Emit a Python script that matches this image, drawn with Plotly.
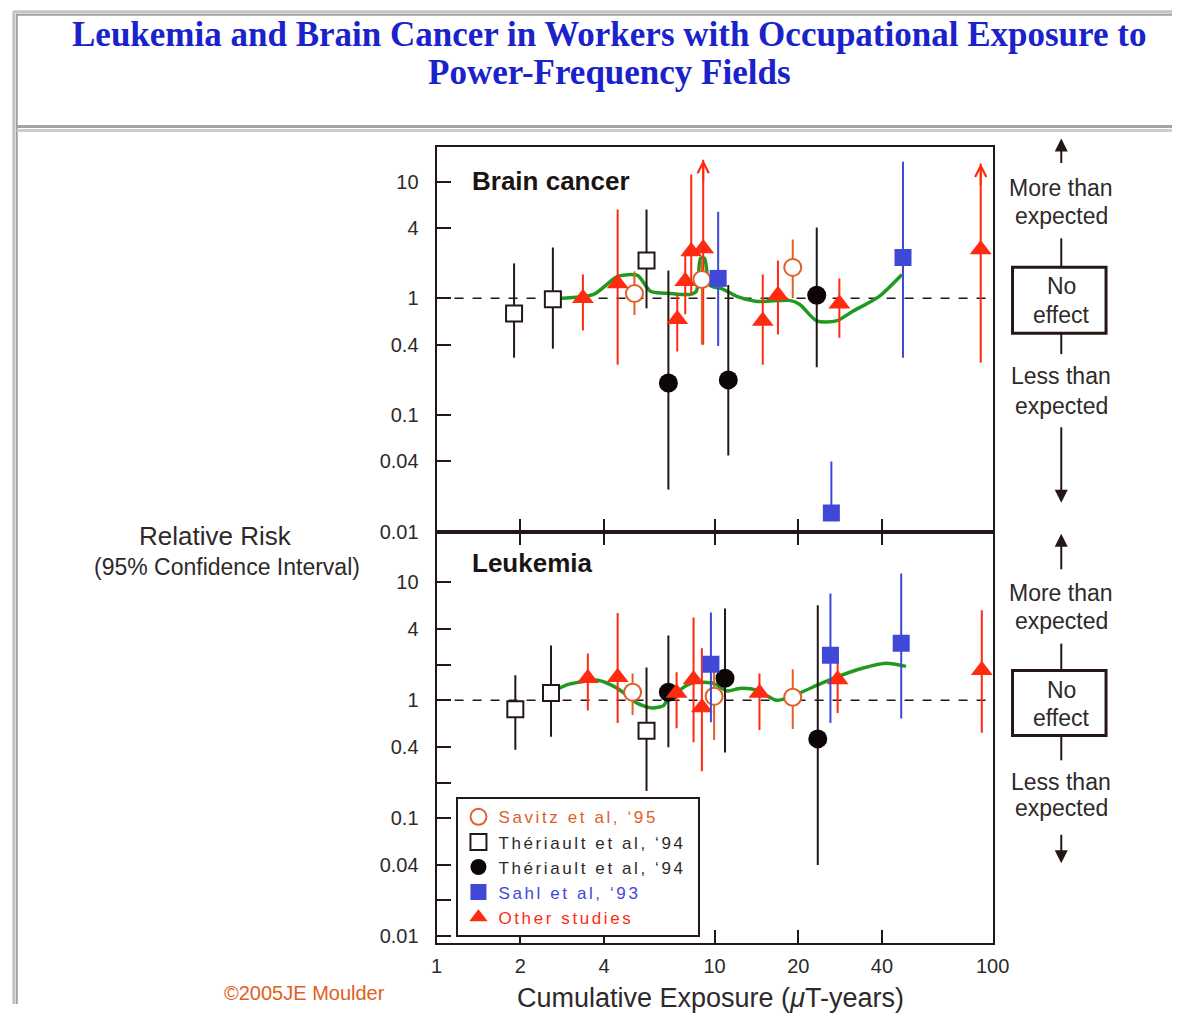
import numpy as np
import plotly.graph_objects as go
from plotly.subplots import make_subplots

W, H = 1181, 1007
# measured: the figure lands on the page at  page = S * fig_px + C
SX, CX = 0.9857, 10.2
SY, CY = 0.991, 6.2

# x ticks (cumulative exposure, uT-years)
x_ticks = [1, 2, 4, 10, 20, 40, 100]
y_ticks = [0.01, 0.04, 0.1, 0.4, 1, 4, 10]
y_ticks_minor = [0.02, 0.2, 2]

# ---- Brain cancer ----
brain_savitz_x = [5.15, 9.0, 19.1]
brain_savitz_y = [1.1, 1.45, 1.84]
brain_savitz_hi = [1.7, 2.1, 3.19]
brain_savitz_lo = [0.72, 0.4, 1.0]

brain_ther_open_x = [1.9, 2.62, 5.69]
brain_ther_open_y = [0.74, 0.98, 2.11]
brain_ther_open_hi = [1.99, 2.73, 5.76]
brain_ther_open_lo = [0.31, 0.37, 0.82]

brain_ther_fill_x = [6.82, 11.2, 23.3]
brain_ther_fill_y = [0.188, 0.2, 1.06]
brain_ther_fill_hi = [1.73, 1.3, 4.05]
brain_ther_fill_lo = [0.023, 0.045, 0.257]

brain_sahl_x = [10.3, 26.3, 47.6]
brain_sahl_y = [1.48, 0.0145, 2.24]
brain_sahl_hi = [5.5, 0.04, 14.8]
brain_sahl_lo = [0.39, 0.0145, 0.31]

brain_other_x = [3.36, 4.48, 7.34, 7.84, 8.24, 9.1, 14.9, 16.9, 28.1, 90.6]
brain_other_y = [1.0, 1.34, 0.66, 1.4, 2.52, 2.67, 0.64, 1.06, 0.9, 2.62]
brain_other_hi = [1.6, 5.76, 1.08, 2.52, 11.5, 15.4, 1.6, 2.11, 1.48, 14.3]
brain_other_lo = [0.53, 0.27, 0.35, 0.73, 1.08, 0.4, 0.27, 0.49, 0.46, 0.28]
brain_open_ended = [9.1, 90.6]  # upper limits off the chart

brain_trend_x = [2.8, 3.67, 4.48, 5.28, 5.88, 6.93, 8.17, 8.6, 8.9, 9.2, 9.6, 10.7,
                 12.0, 14.2, 18.6, 20.2, 23.3, 27.4, 31.3, 39.1, 47.2]
brain_trend_y = [1.0, 1.08, 1.54, 1.57, 1.15, 1.1, 1.08, 1.15, 2.2, 2.2, 1.3, 1.2,
                 1.04, 0.94, 0.96, 0.89, 0.64, 0.64, 0.77, 1.04, 1.6]

# ---- Leukemia ----
leuk_savitz_x = [5.07, 9.96, 19.1]
leuk_savitz_y = [1.17, 1.08, 1.06]
leuk_savitz_hi = [1.69, 1.73, 1.83]
leuk_savitz_lo = [0.75, 0.46, 0.57]

leuk_ther_open_x = [1.92, 2.58, 5.69]
leuk_ther_open_y = [0.84, 1.15, 0.55]
leuk_ther_open_hi = [1.63, 2.92, 1.9]
leuk_ther_open_lo = [0.38, 0.49, 0.17]

leuk_ther_fill_x = [6.82, 10.9, 23.5]
leuk_ther_fill_y = [1.17, 1.54, 0.47]
leuk_ther_fill_hi = [3.55, 6.0, 6.4]
leuk_ther_fill_lo = [0.4, 0.36, 0.04]

leuk_sahl_x = [9.7, 26.1, 46.9]
leuk_sahl_y = [2.02, 2.41, 3.04]
leuk_sahl_hi = [5.57, 8.07, 11.9]
leuk_sahl_lo = [0.65, 0.64, 0.7]

leuk_other_x = [3.5, 4.48, 7.3, 8.4, 9.0, 14.5, 27.7, 91.4]
leuk_other_y = [1.54, 1.57, 1.15, 1.5, 0.87, 1.15, 1.5, 1.8]
leuk_other_hi = [2.5, 5.5, 1.73, 5.05, 2.76, 1.69, 2.4, 5.8]
leuk_other_lo = [0.82, 0.64, 0.58, 0.44, 0.25, 0.56, 0.78, 0.53]

leuk_trend_x = [2.75, 3.0, 3.8, 4.48, 5.28, 5.97, 6.55, 6.75, 7.95, 8.5, 9.9, 11.1,
                12.3, 14.2, 16.7, 18.6, 22.5, 27.4, 34, 41.4, 48.8]
leuk_trend_y = [1.26, 1.37, 1.48, 1.26, 0.94, 0.86, 0.9, 1.0, 1.34, 1.42, 1.39, 1.2,
                1.26, 1.22, 1.0, 1.06, 1.29, 1.57, 1.87, 2.06, 1.94]

INK = '#231815'
TXT = '#2e2a2a'
ORANGE = '#e0602a'
RED = '#ff2a10'
BLUE = '#4048d8'
GREEN = '#1e9b1e'
SANS = 'Liberation Sans, Arial, sans-serif'

# page pixel -> paper fraction
def px(x):
    return ((x - CX) / SX) / W

def py(y):
    return 1 - ((y - CY) / SY) / H

def spaced(text, color=None):
    style = 'letter-spacing:2.6px'
    if color:
        style += f';color:{color}'
    return f'<span style="{style}">{text}</span>'

studies = {
    'savitz': dict(name=spaced('Savitz et al, ‘95', ORANGE), rank=1,
                   marker=dict(symbol='circle', size=17, color='white', line=dict(color=ORANGE, width=2)),
                   err=ORANGE),
    'ther_open': dict(name=spaced('Thériault et al, ‘94'), rank=2,
                      marker=dict(symbol='square', size=16, color='white', line=dict(color=INK, width=2)),
                      err=INK),
    'ther_fill': dict(name=spaced('Thériault et al, ‘94 '), rank=3,
                      marker=dict(symbol='circle', size=19, color='#0d0606', line=dict(width=0)),
                      err=INK),
    'sahl': dict(name=spaced('Sahl et al, ‘93', BLUE), rank=4,
                 marker=dict(symbol='square', size=17, color=BLUE, line=dict(width=0)),
                 err=BLUE),
    'other': dict(name=spaced('Other studies', RED), rank=5,
                  marker=dict(symbol='triangle-up', size=19, color=RED, line=dict(width=0)),
                  err=RED),
}

fig = make_subplots(rows=2, cols=1)


def add_study(key, row, x, y, lo, hi):
    s = studies[key]
    fig.add_trace(go.Scatter(
        x=x, y=y, mode='markers', name=s['name'], legendgroup=key, legendrank=s['rank'],
        showlegend=(row == 1), marker=s['marker'],
        error_y=dict(type='data', symmetric=False,
                     array=[h - v for h, v in zip(hi, y)],
                     arrayminus=[v - l for v, l in zip(y, lo)],
                     color=s['err'], thickness=2, width=0),
    ), row=row, col=1)


for row, tx, ty in [(1, brain_trend_x, brain_trend_y), (2, leuk_trend_x, leuk_trend_y)]:
    fig.add_trace(go.Scatter(x=[x_ticks[0], x_ticks[-1]], y=[1, 1], mode='lines',
                             line=dict(color=INK, width=1.6, dash='dash'),
                             showlegend=False, hoverinfo='skip'), row=row, col=1)
    fig.add_trace(go.Scatter(x=tx, y=ty, mode='lines',
                             line=dict(color=GREEN, width=3.5, shape='spline', smoothing=0.7),
                             showlegend=False, hoverinfo='skip'), row=row, col=1)

add_study('ther_fill', 1, brain_ther_fill_x, brain_ther_fill_y, brain_ther_fill_lo, brain_ther_fill_hi)
add_study('ther_open', 1, brain_ther_open_x, brain_ther_open_y, brain_ther_open_lo, brain_ther_open_hi)
add_study('other', 1, brain_other_x, brain_other_y, brain_other_lo, brain_other_hi)
add_study('savitz', 1, brain_savitz_x, brain_savitz_y, brain_savitz_lo, brain_savitz_hi)
add_study('sahl', 1, brain_sahl_x, brain_sahl_y, brain_sahl_lo, brain_sahl_hi)

add_study('ther_fill', 2, leuk_ther_fill_x, leuk_ther_fill_y, leuk_ther_fill_lo, leuk_ther_fill_hi)
add_study('ther_open', 2, leuk_ther_open_x, leuk_ther_open_y, leuk_ther_open_lo, leuk_ther_open_hi)
add_study('other', 2, leuk_other_x, leuk_other_y, leuk_other_lo, leuk_other_hi)
add_study('savitz', 2, leuk_savitz_x, leuk_savitz_y, leuk_savitz_lo, leuk_savitz_hi)
add_study('sahl', 2, leuk_sahl_x, leuk_sahl_y, leuk_sahl_lo, leuk_sahl_hi)

# open-ended upper limits (arrowheads)
annotations = []
for xv in brain_open_ended:
    top = brain_other_hi[brain_other_x.index(xv)]
    annotations.append(dict(x=np.log10(xv), y=np.log10(top), xref='x', yref='y',
                            ax=np.log10(xv), ay=np.log10(top) - 0.2, axref='x', ayref='y',
                            text='', showarrow=True, arrowhead=5, arrowsize=1.1,
                            arrowwidth=2, arrowcolor=RED, standoff=0))

axis_common = dict(type='log', showgrid=False, zeroline=False, showline=True, linewidth=2,
                   linecolor=INK, ticks='inside', tickwidth=1.5, tickcolor=INK,
                   tickfont=dict(family=SANS, size=20, color=TXT))
xdom = [px(435), px(994)]
fig.update_layout(
    xaxis=dict(axis_common, domain=xdom, range=[0, 2], tickvals=x_ticks[1:-1],
               showticklabels=False, ticklen=13, mirror=True),
    xaxis2=dict(axis_common, domain=xdom, range=[0, 2], tickvals=x_ticks,
                ticktext=[str(v) for v in x_ticks], ticklen=13, mirror='ticks',
                ticklabelstandoff=4),
    yaxis=dict(axis_common, domain=[py(531), py(145)], range=[-2, 1.3], tickvals=y_ticks,
               ticktext=[f'{v:g}' for v in y_ticks], ticklen=14, mirror=True,
               ticklabelstandoff=12),
    yaxis2=dict(axis_common, domain=[py(943), py(531)], range=[-2.06, 1.43],
                tickvals=y_ticks + y_ticks_minor,
                ticktext=[f'{v:g}' for v in y_ticks] + [''] * len(y_ticks_minor),
                ticklen=14, mirror=True, ticklabelstandoff=12),
)

# text labels
def label(text, x, y, size=21, color=TXT, anchor='center', bold=False, family=SANS):
    annotations.append(dict(text=f'<b>{text}</b>' if bold else text, x=px(x), y=py(y),
                            xref='paper', yref='paper', xanchor=anchor, yanchor='middle',
                            showarrow=False, font=dict(family=family, size=size, color=color)))

TITLE_FONT = 'Liberation Serif, Times New Roman, serif'
label('Leukemia and Brain Cancer in Workers with Occupational Exposure to', 608, 33,
      size=35, color='#1a22cc', bold=True, family=TITLE_FONT)
label('Power-Frequency Fields', 609, 71, size=35, color='#1a22cc', bold=True, family=TITLE_FONT)

label('Brain cancer', 469, 180, size=26, color='#1a1414', anchor='left', bold=True)
label('Leukemia', 469, 562, size=26, color='#1a1414', anchor='left', bold=True)
label('Relative Risk', 213, 535, size=26)
label('(95% Confidence Interval)', 224, 566, size=23)
label('Cumulative Exposure (<i>μ</i>T-years)', 710, 998, size=27)
label('©2005JE Moulder', 219, 993, size=20, color='#e0601e', anchor='left')

side_texts = [('More than', 187), ('expected', 215), ('No', 285), ('effect', 314),
              ('Less than', 375), ('expected', 405),
              ('More than', 592), ('expected', 620), ('No', 690), ('effect', 718),
              ('Less than', 782), ('expected', 808)]
for t, y in side_texts:
    label(t, 1063, y, size=23)

# side arrows: (tip y, tail y)
for tip, tail in [(137, 163), (502, 425), (533, 570), (863, 833)]:
    annotations.append(dict(x=px(1063), y=py(tip), xref='paper', yref='paper', ax=0, ay=tail - tip,
                            text='', showarrow=True, arrowhead=2, arrowsize=1.3, arrowwidth=2,
                            arrowcolor=INK, standoff=0))

shapes = []
for y0, y1 in [(237, 266), (332, 353), (643, 670), (735, 760)]:
    shapes.append(dict(type='line', xref='paper', yref='paper', x0=px(1063), x1=px(1063),
                       y0=py(y0), y1=py(y1), line=dict(color=INK, width=2)))
for y0, y1 in [(266, 332), (670, 735)]:
    shapes.append(dict(type='rect', xref='paper', yref='paper', x0=px(1014), x1=px(1108),
                       y0=py(y0), y1=py(y1), line=dict(color=INK, width=3)))

# page frame (the gray table border of the original page)
shapes += [
    dict(type='line', xref='paper', yref='paper', x0=px(10), x1=1, y0=py(10), y1=py(10),
         line=dict(color='#c4c4c4', width=3)),
    dict(type='line', xref='paper', yref='paper', x0=px(13), x1=1, y0=py(13), y1=py(13),
         line=dict(color='#a0a0a0', width=2)),
    dict(type='line', xref='paper', yref='paper', x0=px(10), x1=px(10), y0=py(9), y1=0,
         line=dict(color='#c4c4c4', width=3)),
    dict(type='line', xref='paper', yref='paper', x0=px(13), x1=px(13), y0=py(12), y1=0,
         line=dict(color='#a0a0a0', width=2)),
    dict(type='line', xref='paper', yref='paper', x0=px(13), x1=1, y0=py(125), y1=py(125),
         line=dict(color='#a4a4a4', width=3)),
    dict(type='line', xref='paper', yref='paper', x0=px(13), x1=1, y0=py(129), y1=py(129),
         line=dict(color='#cccccc', width=3)),
]

fig.update_layout(
    width=W, height=H, margin=dict(l=0, r=0, t=0, b=0),
    paper_bgcolor='white', plot_bgcolor='white',
    annotations=annotations, shapes=shapes,
    showlegend=True,
    legend=dict(x=px(455), y=py(797), xanchor='left', yanchor='top',
                bgcolor='white', bordercolor=INK, borderwidth=2,
                font=dict(family=SANS, size=17, color=TXT), tracegroupgap=0,
                itemclick=False, itemdoubleclick=False),
    font=dict(family=SANS, color=TXT),
)

fig.write_html("out.html", config={'displayModeBar': False})
